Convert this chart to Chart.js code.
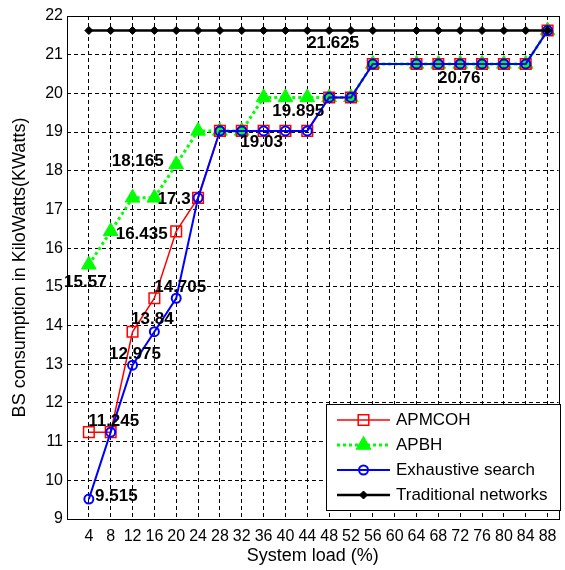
<!DOCTYPE html>
<html>
<head>
    <title>BS consumption vs system load</title>
    <style>
        body { margin: 0; background: #fff; overflow: hidden; }
        #wrap { width: 565px; height: 570px; overflow: hidden; }
        canvas { display: block; }
    </style>
    <script src="https://cdn.jsdelivr.net/npm/chart.js"></script>
</head>
<body>
<div id="wrap"><canvas id="powerChart" width="568" height="570"></canvas></div>

<script>
    // system load (%) of each run -- there is no run at 60 %
    let loads = [4, 8, 12, 16, 20, 24, 28, 32, 36, 40, 44, 48, 52, 56, 64, 68, 72, 76, 80, 84, 88];
    let xTicks = [4, 8, 12, 16, 20, 24, 28, 32, 36, 40, 44, 48, 52, 56, 60, 64, 68, 72, 76, 80, 84, 88];
    let yTicks = [9, 10, 11, 12, 13, 14, 15, 16, 17, 18, 19, 20, 21, 22];

    // BS consumption in kW
    let apmcoh = [11.245, 11.245, 13.84, 14.705, 16.435, 17.3, 19.03, 19.03, 19.03, 19.03, 19.03,
        19.895, 19.895, 20.76, 20.76, 20.76, 20.76, 20.76, 20.76, 20.76, 21.625];
    let apbh = [15.57, 16.435, 17.3, 17.3, 18.165, 19.03, 19.03, 19.03, 19.895, 19.895, 19.895,
        19.895, 19.895, 20.76, 20.76, 20.76, 20.76, 20.76, 20.76, 20.76, 21.625];
    let exhaustive = [9.515, 11.245, 12.975, 13.84, 14.705, 17.3, 19.03, 19.03, 19.03, 19.03, 19.03,
        19.895, 19.895, 20.76, 20.76, 20.76, 20.76, 20.76, 20.76, 20.76, 21.625];
    let traditional = [21.625, 21.625, 21.625, 21.625, 21.625, 21.625, 21.625, 21.625, 21.625, 21.625, 21.625,
        21.625, 21.625, 21.625, 21.625, 21.625, 21.625, 21.625, 21.625, 21.625, 21.625];

    // value annotations: which series / load, and where the text sits relative to the point
    let notes = [
        { series: "APBH", load: 4, dx: -3.5, dy: 18 },
        { series: "APBH", load: 8, dx: 31, dy: 3 },
        { series: "APBH", load: 20, dx: -38.5, dy: -3.5 },
        { series: "APMCOH", load: 24, dx: -24, dy: 1 },
        { series: "Exhaustive search", load: 20, dx: 4, dy: -11 },
        { series: "Exhaustive search", load: 16, dx: -2, dy: -12 },
        { series: "Exhaustive search", load: 12, dx: 2.5, dy: -11 },
        { series: "APMCOH", load: 8, dx: 3, dy: -11 },
        { series: "Exhaustive search", load: 4, dx: 27.5, dy: -3 },
        { series: "APMCOH", load: 36, dx: -2, dy: 11.5 },
        { series: "APBH", load: 44, dx: -9, dy: 14 },
        { series: "Traditional networks", load: 48, dx: 4, dy: 13 },
        { series: "APMCOH", load: 72, dx: -1, dy: 14.5 }
    ];

    const FONT = "'Liberation Sans', Arial, sans-serif";

    function points(values) {
        return loads.map((x, i) => ({ x: x, y: values[i] }));
    }

    // draw one marker shape (used for the legend swatches)
    function marker(c, ds, x, y) {
        let r = ds.pointRadius;
        c.save();
        c.setLineDash([]);
        c.lineWidth = ds.pointBorderWidth;
        c.strokeStyle = ds.pointBorderColor;
        c.fillStyle = ds.pointBackgroundColor;
        c.beginPath();
        if (ds.pointStyle === "rect") {
            let s = r * Math.SQRT1_2;
            c.rect(x - s, y - s, 2 * s, 2 * s);
        } else if (ds.pointStyle === "triangle") {
            c.moveTo(x, y - r);
            c.lineTo(x + r * Math.sin(Math.PI * 2 / 3), y + r / 2);
            c.lineTo(x - r * Math.sin(Math.PI * 2 / 3), y + r / 2);
            c.closePath();
        } else if (ds.pointStyle === "rectRot") {
            c.moveTo(x, y - r);
            c.lineTo(x + r, y);
            c.lineTo(x, y + r);
            c.lineTo(x - r, y);
            c.closePath();
        } else {
            c.arc(x, y, r, 0, Math.PI * 2);
        }
        c.fill();
        c.stroke();
        c.restore();
    }

    const framePlugin = {
        id: "frame",
        beforeDatasetsDraw(chart) {
            let a = chart.chartArea, c = chart.ctx;
            c.save();
            c.strokeStyle = "#000";
            c.lineWidth = 1;
            c.setLineDash([]);
            c.strokeRect(Math.round(a.left) + 0.5, Math.round(a.top) + 0.5,
                Math.round(a.right - a.left), Math.round(a.bottom - a.top));
            c.restore();
        }
    };

    const notesPlugin = {
        id: "notes",
        afterDatasetsDraw(chart) {
            let c = chart.ctx, xs = chart.scales.x, ys = chart.scales.y;
            c.save();
            c.font = "bold 17px " + FONT;
            c.fillStyle = "#000";
            c.textAlign = "center";
            c.textBaseline = "middle";
            notes.forEach(n => {
                let ds = chart.data.datasets.find(d => d.label === n.series);
                let v = ds.data[loads.indexOf(n.load)].y;
                c.fillText(String(v), xs.getPixelForValue(n.load) + n.dx, ys.getPixelForValue(v) + n.dy);
            });
            c.restore();
        }
    };

    const legendPlugin = {
        id: "boxLegend",
        afterDraw(chart) {
            let c = chart.ctx;
            let box = { x: 326, y: 404, w: 234, h: 106 };
            c.save();
            c.fillStyle = "#fff";
            c.fillRect(box.x, box.y, box.w, box.h);
            c.strokeStyle = "#000";
            c.lineWidth = 1;
            c.strokeRect(box.x + 0.5, box.y + 0.5, box.w, box.h);
            c.font = "17px " + FONT;
            c.textBaseline = "middle";
            c.textAlign = "left";
            chart.data.datasets.forEach((ds, i) => {
                let y = 420 + i * 25;
                c.strokeStyle = ds.borderColor;
                c.lineWidth = ds.borderWidth;
                c.setLineDash(ds.borderDash || []);
                c.beginPath();
                c.moveTo(337, y);
                c.lineTo(390, y);
                c.stroke();
                marker(c, ds, 363.5, y);
                c.fillStyle = "#000";
                c.fillText(ds.label, 396, y + 0.5);
            });
            c.restore();
        }
    };

    let ctx = document.getElementById("powerChart").getContext("2d");

    let chart = new Chart(ctx, {
        type: "line",
        data: {
            datasets: [
                {
                    label: "APMCOH",
                    data: points(apmcoh),
                    borderColor: "#ff0000",
                    borderWidth: 1.5,
                    pointStyle: "rect",
                    pointRadius: 7.5,
                    pointBorderWidth: 1.5,
                    pointBorderColor: "#ff0000",
                    pointBackgroundColor: "rgba(0,0,0,0)",
                    order: 2
                },
                {
                    label: "APBH",
                    data: points(apbh),
                    borderColor: "#00ff00",
                    borderWidth: 3,
                    borderDash: [3, 3],
                    pointStyle: "triangle",
                    pointRadius: 8.5,
                    pointBorderWidth: 1,
                    pointBorderColor: "#00ff00",
                    pointBackgroundColor: "#00ff00",
                    order: 3
                },
                {
                    label: "Exhaustive search",
                    data: points(exhaustive),
                    borderColor: "#0000ff",
                    borderWidth: 2,
                    pointStyle: "circle",
                    pointRadius: 4.5,
                    pointBorderWidth: 2,
                    pointBorderColor: "#0000ff",
                    pointBackgroundColor: "rgba(0,0,0,0)",
                    order: 1
                },
                {
                    label: "Traditional networks",
                    data: points(traditional),
                    borderColor: "#000000",
                    borderWidth: 2.5,
                    pointStyle: "rectRot",
                    pointRadius: 4,
                    pointBorderWidth: 1,
                    pointBorderColor: "#000000",
                    pointBackgroundColor: "#000000",
                    order: 0
                }
            ]
        },
        options: {
            responsive: false,
            animation: false,
            devicePixelRatio: 1,
            layout: { padding: { top: 16, right: 0, bottom: 0, left: 0 } },
            elements: { line: { tension: 0, fill: false } },
            plugins: { legend: { display: false }, tooltip: { enabled: false } },
            scales: {
                x: {
                    type: "linear",
                    min: 0,
                    max: 90,
                    afterBuildTicks: s => { s.ticks = xTicks.map(v => ({ value: v })); },
                    afterFit: s => { s.height = 51; },
                    ticks: { color: "#000", font: { family: FONT, size: 16 }, padding: 7.5, maxRotation: 0, autoSkip: false },
                    grid: { color: "#000", lineWidth: 1, drawTicks: false },
                    border: { display: false, dash: [4, 3] },
                    title: { display: true, text: "System load (%)", color: "#000", font: { family: FONT, size: 18 }, padding: { top: 0, bottom: 3.5 } }
                },
                y: {
                    min: 9,
                    max: 22,
                    afterBuildTicks: s => { s.ticks = yTicks.map(v => ({ value: v })); },
                    afterFit: s => { s.width = 67; },
                    ticks: { color: "#000", font: { family: FONT, size: 16 }, padding: 4 },
                    grid: { color: "#000", lineWidth: 1, drawTicks: false },
                    border: { display: false, dash: [4, 3] },
                    title: { display: true, text: "BS consumption in KiloWatts(KWatts)", color: "#000", font: { family: FONT, size: 18 }, padding: { top: 9, bottom: 0 } }
                }
            }
        },
        plugins: [framePlugin, notesPlugin, legendPlugin]
    });
</script>
</body>
</html>
